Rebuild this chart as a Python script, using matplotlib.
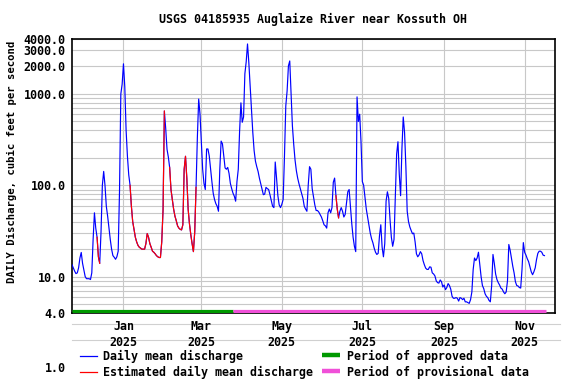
import numpy as np
import pandas as pd
import matplotlib
matplotlib.use('Agg')
import matplotlib.pyplot as plt
from matplotlib.lines import Line2D
from matplotlib.ticker import FixedLocator, LogLocator, NullFormatter

# daily mean discharge, cfs, starting 2024-11-23
flow = [
    13.5, 12.5, 11.5, 10.8, 11, 12.5, 16, 18.4, 14, 11.8,
    10, 9.5, 9.5, 9.5, 9.3, 11, 25.5, 50, 34, 27,
    16.5, 14, 31, 100, 142, 100, 59, 46, 34, 25.5,
    20, 17, 16.3, 15.5, 16.5, 19, 86, 1000, 1280, 2140,
    1200, 400, 208, 130, 100, 59, 40, 33, 27, 24,
    22, 21, 20.5, 20, 20, 20, 23, 29.6, 27, 23,
    21, 19, 18.5, 17.8, 17, 16.5, 16.2, 16.2, 24, 54,
    650, 420, 248, 204, 157, 90, 70, 55, 46, 41,
    36, 34, 33, 32.5, 37, 150, 208, 120, 55, 38,
    29, 23, 18.8, 31, 95, 335, 880, 600, 300, 150,
    105, 90, 250, 250, 210, 150, 110, 82, 70, 63,
    59, 52, 150, 305, 285, 208, 155, 150, 157, 135,
    105, 92, 82, 76, 67, 110, 150, 393, 800, 490,
    560, 1670, 2250, 3530, 2200, 1200, 680, 380, 240, 184,
    160, 142, 120, 104, 90, 79, 80, 95, 92, 90,
    79, 68, 59, 57, 180, 120, 77, 61, 57, 62,
    70, 208, 740, 1080, 2030, 2300, 1000, 450, 282, 190,
    145, 120, 104, 92, 82, 72, 59, 55, 52, 100,
    160, 150, 92, 75, 61, 53, 53, 51, 48, 45,
    41, 37, 36, 34, 50, 55, 50, 57, 108, 120,
    77, 55, 44, 52, 57, 52, 45, 48, 64, 85,
    90, 58, 38, 27, 21.5, 18.8, 930, 500, 600, 300,
    110, 100, 75, 55, 45, 37, 30, 26, 23.5, 20.5,
    18.5, 17.5, 18, 28, 37, 21, 16.5, 23, 67, 85,
    72, 42, 27, 21.5, 25.5, 75, 220, 300, 132, 77,
    250, 560, 380, 160, 52, 40, 35, 32, 29.5, 30,
    24, 17.8, 16.5, 17.3, 18.8, 17.8, 15, 13.5, 12.4, 12,
    12, 12.8, 12.7, 11, 10.7, 10.2, 9, 8.6, 8.5, 9.2,
    8.8, 7.7, 8.1, 7.2, 7.6, 8.4, 8, 7.3, 6.1, 5.8,
    5.8, 5.9, 5.8, 5.4, 5.9, 5.8, 5.6, 5.8, 5.3, 5.3,
    5.2, 5.1, 5.6, 6.8, 12, 16, 15, 16, 18.5, 13.5,
    10, 8, 7.4, 6.5, 6.1, 5.9, 5.5, 5.3, 8, 17.5,
    14, 10.7, 9.3, 8.6, 8.1, 7.5, 7.3, 6.8, 6.5, 6.8,
    9, 22.5, 19.5, 16, 13, 11, 8.8, 8, 7.9, 7.6,
    7.5, 12, 23.6, 18.5, 17.2, 15.7, 14.6, 12.8, 11.3, 10.5,
    11.3, 12.5, 15.4, 18, 19, 19, 18.5, 17.2, 17,
]
start_date = '2024-11-23'
# index ranges (inclusive) of estimated values
estimated = [(19, 21), (44, 70), (74, 94), (200, 202)]
approved = ('2024-11-23', '2025-03-25')
provisional = ('2025-03-25', '2025-11-17')

ytick_vals = [4, 10, 100, 1000, 2000, 3000, 4000]
ytick_labels = ['4.0', '10.0', '100.0', '1000.0', '2000.0', '3000.0', '4000.0']
month_ticks = ['2025-01-01', '2025-03-01', '2025-05-01', '2025-07-01', '2025-09-01', '2025-11-01']
month_labels = ['Jan\n2025', 'Mar\n2025', 'May\n2025', 'Jul\n2025', 'Sep\n2025', 'Nov\n2025']

title = 'USGS 04185935 Auglaize River near Kossuth OH'
ylabel = 'DAILY Discharge, cubic feet per second'

plt.rcParams['font.family'] = 'DejaVu Sans Mono'
plt.rcParams['font.weight'] = 'bold'
FS = 8.4
W, H = 576, 384


def fx(px):
    return px / W


def fy(py):
    return 1 - py / H


dates = pd.date_range(start_date, periods=len(flow), freq='D')
flow = np.array(flow, dtype=float)

fig = plt.figure(figsize=(5.76, 3.84), dpi=100)
ax = fig.add_axes([fx(72), fy(313), fx(555) - fx(72), fy(39) - fy(313)])

ax.plot(dates, flow, color='#0000ff', lw=0.85, zorder=3)
for s, e in estimated:
    ax.plot(dates[s:e + 1], flow[s:e + 1], color='#ff0000', lw=0.85, zorder=4)

ax.set_yscale('log')
ax.set_ylim(4, 4000)
ax.set_xlim(pd.Timestamp('2024-11-23'), pd.Timestamp('2025-11-24'))

ax.yaxis.set_major_locator(FixedLocator(ytick_vals))
ax.set_yticklabels(ytick_labels, fontsize=FS)
ax.yaxis.set_minor_locator(LogLocator(base=10, subs=range(2, 10)))
ax.yaxis.set_minor_formatter(NullFormatter())
ax.set_xticks(pd.to_datetime(month_ticks))
ax.set_xticklabels(month_labels, fontsize=FS)
for lbl in ax.get_xticklabels():
    lbl.set_linespacing(1.35)
ax.tick_params(axis='both', which='both', length=0)
ax.tick_params(axis='y', pad=4.5)
ax.tick_params(axis='x', pad=5)

ax.grid(True, which='both', axis='y', color='#c8c8c8', lw=0.8, zorder=0)
ax.grid(True, which='major', axis='x', color='#c8c8c8', lw=0.8, zorder=0)
for sp in ax.spines.values():
    sp.set_linewidth(1.2)

# data approval periods along the bottom
bt = ax.get_xaxis_transform()
ax.plot(pd.to_datetime(approved), [0.009, 0.009], transform=bt, color='#009900',
        lw=2.3, solid_capstyle='butt', zorder=5)
ax.plot(pd.to_datetime(provisional), [0.009, 0.009], transform=bt, color='#f050d8',
        lw=2.3, solid_capstyle='butt', zorder=5)

# faint rules behind the date labels
for py in (324, 340):
    fig.add_artist(Line2D([fx(72), fx(560)], [fy(py), fy(py)], color='#d0d0d0', lw=0.8, zorder=0))

fig.text(fx(313), fy(19), title, ha='center', va='center', fontsize=FS)
fig.text(fx(12), fy(162), ylabel, rotation=90, ha='center', va='center', fontsize=7.7)
fig.text(fx(66), fy(368), '1.0', ha='right', va='center', fontsize=FS)

# legend
fig.add_artist(Line2D([fx(80), fx(97)], [fy(356), fy(356)], color='#0000ff', lw=0.9))
fig.add_artist(Line2D([fx(80), fx(97)], [fy(372), fy(372)], color='#ff0000', lw=0.9))
fig.add_artist(Line2D([fx(322), fx(340)], [fy(355), fy(355)], color='#009900', lw=3.2, solid_capstyle='butt'))
fig.add_artist(Line2D([fx(322), fx(340)], [fy(371), fy(371)], color='#f050d8', lw=3.2, solid_capstyle='butt'))
fig.text(fx(103), fy(356), 'Daily mean discharge', va='center', fontsize=FS)
fig.text(fx(103), fy(372), 'Estimated daily mean discharge', va='center', fontsize=FS)
fig.text(fx(347), fy(356), 'Period of approved data', va='center', fontsize=FS)
fig.text(fx(347), fy(372), 'Period of provisional data', va='center', fontsize=FS)

fig.savefig('out.png', dpi=100)
